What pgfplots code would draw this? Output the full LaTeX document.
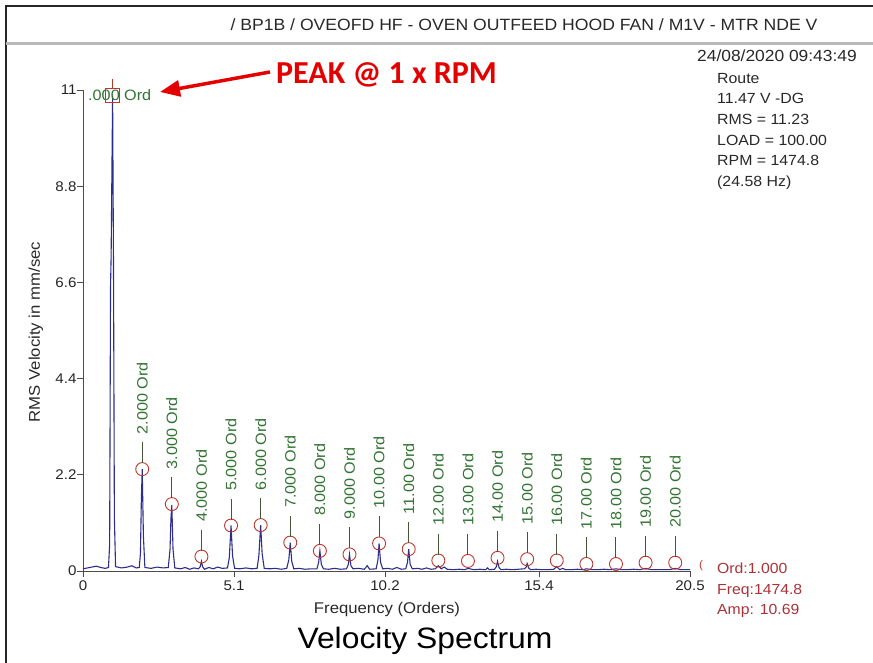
\documentclass[border=0pt]{standalone}
\usepackage{pgfplots}
\pgfplotsset{compat=1.18}
\usetikzlibrary{arrows.meta}
\usepackage{fontspec}
\setmainfont{Liberation Sans}[FakeStretch=1.08]
\newfontfamily\peakfont{Carlito}

\definecolor{spec}{RGB}{45,45,140}
\definecolor{mk}{RGB}{190,55,45}
\definecolor{lbl}{RGB}{50,115,50}
\definecolor{stem}{RGB}{70,85,55}
\definecolor{inf}{RGB}{170,50,55}
\definecolor{txt}{RGB}{40,40,40}

\begin{document}
\begin{tikzpicture}[x=1pt,y=1pt]
\path[use as bounding box] (0,0) rectangle (873,663);

% frame and header
\draw[line width=2pt, black!85] (6,0) -- (6,657) -- (873,657);
\draw[line width=3pt, gray!55] (6,619) -- (873,619);
\node[font=\fontsize{16.3}{19}\selectfont, text=txt] at (524,638)
  {/ BP1B / OVEOFD HF - OVEN OUTFEED HOOD FAN / M1V - MTR NDE V};

\begin{axis}[
    at={(83pt,92pt)}, anchor=south west,
    scale only axis,
    width=607pt, height=481pt,
    xmin=0, xmax=20.5,
    ymin=0, ymax=11,
    axis x line*=bottom,
    axis y line*=left,
    axis line style={-, black!70, line width=0.9pt},
    xtick={0,5.1,10.2,15.4,20.5},
    xticklabels={0,5.1,10.2,15.4,20.5},
    ytick={0,2.2,4.4,6.6,8.8,11},
    yticklabels={0,2.2,4.4,6.6,8.8,11},
    tick align=outside,
    major tick length=6pt,
    tick style={black!70, line width=0.8pt},
    ticklabel style={font=\fontsize{14}{16}\selectfont, text=black!85},
    yticklabel style={xshift=3pt},
    xlabel={Frequency (Orders)},
    ylabel={RMS Velocity in mm/sec},
    xlabel style={at={(axis description cs:0.5008,-0.079)}, anchor=center,
        font=\fontsize{15.5}{18}\selectfont, text=txt},
    ylabel style={at={(axis description cs:-0.0775,0.4969)}, anchor=center,
        font=\fontsize{15.5}{18}\selectfont, text=txt},
    clip=false,
]

% spectrum
\addplot[spec, line width=1.1pt] coordinates {
(0.00,0.05) (0.15,0.07) (0.30,0.09) (0.45,0.11) (0.60,0.08) (0.75,0.06) (0.86,0.08)
(0.90,0.6) (0.93,6.5) (0.95,7.2) (1.00,10.87) (1.03,7.0) (1.06,1.2) (1.10,0.10)
(1.30,0.07) (1.50,0.09) (1.65,0.12) (1.80,0.07) (1.90,0.08)
(1.94,0.4) (1.97,1.6) (2.00,2.33) (2.04,0.8) (2.09,0.08)
(2.30,0.06) (2.50,0.09) (2.70,0.07) (2.88,0.08)
(2.94,0.5) (2.97,1.2) (3.00,1.51) (3.04,0.5) (3.10,0.07)
(3.30,0.05) (3.45,0.08) (3.60,0.04) (3.75,0.07) (3.90,0.05)
(3.96,0.10) (4.00,0.22) (4.04,0.10) (4.10,0.04)
(4.25,0.08) (4.40,0.05) (4.55,0.09) (4.70,0.06) (4.88,0.07)
(4.94,0.30) (5.00,1.04) (5.05,0.35) (5.12,0.06)
(5.30,0.05) (5.50,0.07) (5.70,0.05) (5.88,0.06)
(5.94,0.35) (6.00,1.05) (6.05,0.40) (6.12,0.06)
(6.30,0.05) (6.50,0.06) (6.70,0.04) (6.88,0.06)
(6.95,0.25) (7.00,0.65) (7.05,0.22) (7.12,0.05)
(7.30,0.06) (7.50,0.04) (7.70,0.05) (7.90,0.05)
(7.96,0.20) (8.00,0.46) (8.05,0.15) (8.12,0.05)
(8.30,0.04) (8.50,0.06) (8.70,0.04) (8.90,0.05)
(8.96,0.15) (9.00,0.38) (9.05,0.12) (9.12,0.05)
(9.30,0.06) (9.50,0.04) (9.60,0.12) (9.68,0.04) (9.90,0.05)
(9.96,0.25) (10.00,0.63) (10.05,0.20) (10.12,0.05)
(10.30,0.06) (10.45,0.04) (10.60,0.08) (10.75,0.04) (10.90,0.05)
(10.96,0.20) (11.00,0.50) (11.05,0.15) (11.12,0.05)
(11.30,0.06) (11.45,0.04) (11.60,0.07) (11.75,0.04) (11.90,0.05)
(12.00,0.12) (12.10,0.05) (12.20,0.09) (12.30,0.04) (12.50,0.03) (12.70,0.04) (12.90,0.03)
(13.00,0.06) (13.20,0.03) (13.40,0.04) (13.60,0.03) (13.66,0.07) (13.72,0.03) (13.90,0.04)
(13.96,0.10) (14.00,0.22) (14.05,0.08) (14.12,0.03)
(14.30,0.04) (14.50,0.03) (14.70,0.04) (14.90,0.05)
(14.96,0.08) (15.00,0.17) (15.05,0.07) (15.12,0.03)
(15.30,0.04) (15.50,0.03) (15.70,0.03) (15.90,0.04)
(16.00,0.10) (16.10,0.03) (16.20,0.06) (16.30,0.03) (16.50,0.03) (16.70,0.04) (16.90,0.03)
(17.00,0.05) (17.20,0.03) (17.40,0.03) (17.60,0.04) (17.80,0.03)
(18.00,0.05) (18.20,0.03) (18.40,0.03) (18.60,0.04) (18.80,0.03)
(19.00,0.06) (19.20,0.03) (19.40,0.03) (19.60,0.03) (19.80,0.03)
(20.00,0.06) (20.20,0.03) (20.50,0.03)
};

% 1x peak marker
\addplot[only marks, mark=square, mark size=7pt, mk, line width=0.9pt]
  coordinates {(1.00,10.87)};
\draw[mk, line width=0.9pt] (axis cs:1,11.03) -- (axis cs:1,11.26);
\node[anchor=west, inner sep=0pt, font=\fontsize{15}{17}\selectfont, text=lbl]
  at (axis cs:0.17,10.89) {.000 Ord};

% harmonic markers with labels
\addplot[only marks, mark=o, mark size=6.5pt, mk, line width=0.9pt,
    point meta=explicit symbolic,
    nodes near coords={\hspace*{5.5pt}\textcolor{stem}{\rule[0.33em]{21pt}{0.9pt}}\hspace*{8pt}\pgfplotspointmeta},
    every node near coord/.append style={rotate=90, anchor=west, inner sep=0pt,
        font=\fontsize{15}{17}\selectfont, text=lbl}]
  coordinates {
    (2,2.33)[2.000 Ord] (3,1.53)[3.000 Ord] (4,0.33)[4.000 Ord]
    (5,1.04)[5.000 Ord] (6,1.05)[6.000 Ord] (7,0.65)[7.000 Ord]
    (8,0.46)[8.000 Ord] (9,0.38)[9.000 Ord] (10,0.63)[10.00 Ord]
    (11,0.50)[11.00 Ord] (12,0.24)[12.00 Ord] (13,0.23)[13.00 Ord]
    (14,0.30)[14.00 Ord] (15,0.27)[15.00 Ord] (16,0.24)[16.00 Ord]
    (17,0.16)[17.00 Ord] (18,0.16)[18.00 Ord] (19,0.19)[19.00 Ord]
    (20,0.19)[20.00 Ord]
  };
\end{axis}

% annotation
\draw[red!90!black, line width=3.5pt, -{Triangle[length=20pt,width=16pt]}]
  (270,591) -- (160,571);
\node[anchor=west, inner sep=0pt, text=red!90!black,
      font=\peakfont\bfseries\fontsize{32}{36}\selectfont] at (276,588) {PEAK @ 1 x RPM};

% info block
\node[anchor=base west, inner sep=0pt, font=\fontsize{16.1}{19}\selectfont, text=txt]
  at (697,601) {24/08/2020 09:43:49};
\begin{scope}[every node/.style={anchor=base west, inner sep=0pt,
    font=\fontsize{14.7}{17}\selectfont, text=txt}]
\node at (717,579.7) {Route};
\node at (717,559.0) {11.47 V -DG};
\node at (717,538.3) {RMS = 11.23};
\node at (717,517.6) {LOAD = 100.00};
\node at (717,497.0) {RPM = 1474.8};
\node at (717,476.3) {(24.58 Hz)};
\end{scope}

\begin{scope}[every node/.style={anchor=base west, inner sep=0pt,
    font=\fontsize{14.6}{17}\selectfont, text=inf}]
\node at (717,89) {Ord:1.000};
\node at (717,68) {Freq:1474.8};
\node at (717,48) {Amp: 10.69};
\node[font=\fontsize{11}{13}\selectfont, text=mk] at (699,94) {(};
\end{scope}

\node[font=\fontsize{29.5}{34}\selectfont, text=black] at (425,22) {Velocity Spectrum};
\end{tikzpicture}
\end{document}
